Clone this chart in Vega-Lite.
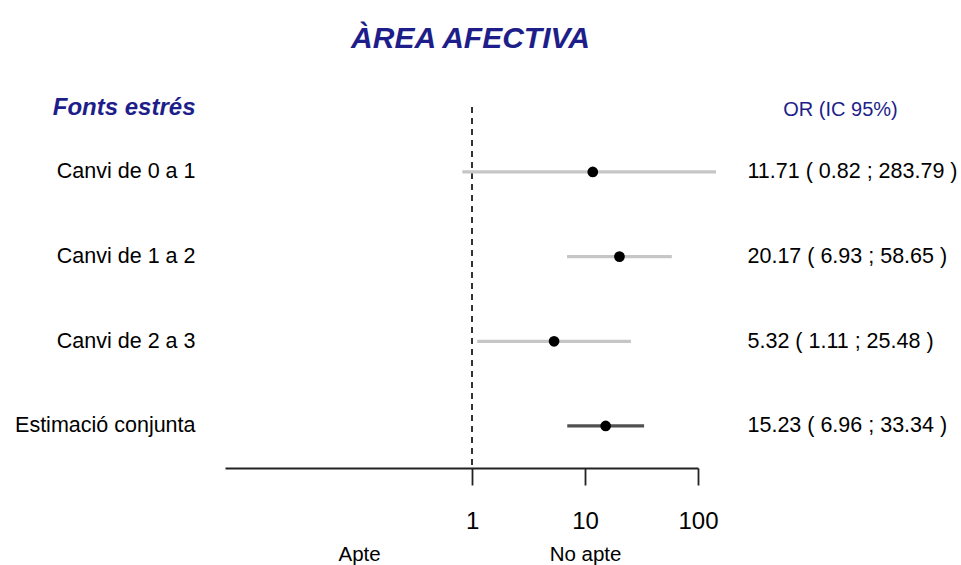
{
  "$schema": "https://vega.github.io/schema/vega-lite/v6.json",
  "autosize": {"type": "none"},
  "padding": {"left": 225, "top": 107, "right": 245, "bottom": 97},
  "width": 491,
  "height": 361,
  "background": "white",
  "title": {
    "text": "ÀREA AFECTIVA",
    "font": "Liberation Sans",
    "fontSize": 30,
    "fontStyle": "italic",
    "fontWeight": "bold",
    "color": "#1e1e8a",
    "anchor": "middle",
    "frame": "group",
    "baseline": "alphabetic",
    "offset": 17
  },
  "data": {
    "values": [
      {"label": "Canvi de 0 a 1", "ortext": "11.71 ( 0.82 ; 283.79 )", "or": 11.71, "lo": 0.82, "hi": 283.79, "tipus": "estudi"},
      {"label": "Canvi de 1 a 2", "ortext": "20.17 ( 6.93 ; 58.65 )", "or": 20.17, "lo": 6.93, "hi": 58.65, "tipus": "estudi"},
      {"label": "Canvi de 2 a 3", "ortext": "5.32 ( 1.11 ; 25.48 )", "or": 5.32, "lo": 1.11, "hi": 25.48, "tipus": "estudi"},
      {"label": "Estimació conjunta", "ortext": "15.23 ( 6.96 ; 33.34 )", "or": 15.23, "lo": 6.96, "hi": 33.34, "tipus": "conjunt"}
    ]
  },
  "layer": [
    {
      "mark": {"type": "rule", "strokeDash": [6, 5], "color": "#333333", "strokeWidth": 1.6},
      "encoding": {
        "x": {"datum": 1, "type": "quantitative", "scale": {"type": "log", "domain": [0.0065, 100], "range": [0, 473], "nice": false, "zero": false}, "axis": null}
      }
    },
    {
      "mark": {"type": "rule", "strokeWidth": 3.3, "clip": true},
      "encoding": {
        "x": {
          "field": "lo", "type": "quantitative",
          "scale": {"type": "log", "domain": [0.0065, 100], "range": [0, 473], "nice": false, "zero": false},
          "axis": {
            "orient": "bottom", "values": [1, 10, 100], "format": "d", "title": null, "grid": false,
            "domainColor": "#222222", "domainWidth": 1.8, "tickColor": "#222222", "tickWidth": 1.8, "tickSize": 17,
            "labelFont": "Liberation Sans", "labelFontSize": 24, "labelColor": "black", "labelPadding": 24,
            "labelFlush": false, "labelOverlap": false
          }
        },
        "x2": {"field": "hi"},
        "y": {
          "field": "label", "type": "nominal", "sort": null,
          "scale": {"type": "point", "padding": 0.632, "align": 0.607},
          "axis": {
            "orient": "left", "ticks": false, "domain": false, "grid": false,
            "labelFont": "Liberation Sans", "labelFontSize": 21.5, "labelColor": "black", "labelPadding": 30,
            "labelLimit": 0,
            "title": "Fonts estrés", "titleAngle": 0, "titleAlign": "right", "titleBaseline": "alphabetic",
            "titleX": -30, "titleY": 7, "titleFont": "Liberation Sans", "titleFontSize": 24,
            "titleFontStyle": "italic", "titleFontWeight": "bold", "titleColor": "#1e1e8a"
          }
        },
        "color": {
          "field": "tipus", "type": "nominal",
          "scale": {"domain": ["estudi", "conjunt"], "range": ["#c6c6c6", "#505050"]},
          "legend": null
        }
      }
    },
    {
      "mark": {"type": "point", "filled": true, "shape": "circle", "size": 115, "color": "black", "opacity": 1},
      "encoding": {
        "x": {
          "field": "or", "type": "quantitative",
          "scale": {"type": "log", "domain": [0.0065, 100], "range": [0, 473], "nice": false, "zero": false},
          "axis": {
            "orient": "bottom", "values": [0.1, 10], "labelExpr": "datum.value < 1 ? 'Apte' : 'No apte'",
            "title": null, "grid": false, "domain": false, "ticks": false, "tickSize": 0,
            "labelFont": "Liberation Sans", "labelFontSize": 20.5, "labelColor": "black", "labelPadding": 76,
            "labelFlush": false, "labelOverlap": false
          }
        },
        "y": {
          "field": "ortext", "type": "nominal", "sort": null,
          "scale": {"type": "point", "padding": 0.632, "align": 0.607},
          "axis": {
            "orient": "right", "ticks": false, "domain": false, "grid": false,
            "labelFont": "Liberation Sans", "labelFontSize": 21.5, "labelColor": "black", "labelPadding": 31,
            "labelLimit": 0,
            "title": "OR (IC 95%)", "titleAngle": 0, "titleAlign": "center", "titleBaseline": "alphabetic",
            "titleX": 124, "titleY": 8, "titleFont": "Liberation Sans", "titleFontSize": 20,
            "titleFontWeight": "normal", "titleColor": "#1e1e8a"
          }
        }
      }
    }
  ],
  "resolve": {
    "scale": {"y": "independent"},
    "axis": {"x": "independent", "y": "independent"}
  },
  "config": {
    "view": {"stroke": null},
    "font": "Liberation Sans"
  }
}
